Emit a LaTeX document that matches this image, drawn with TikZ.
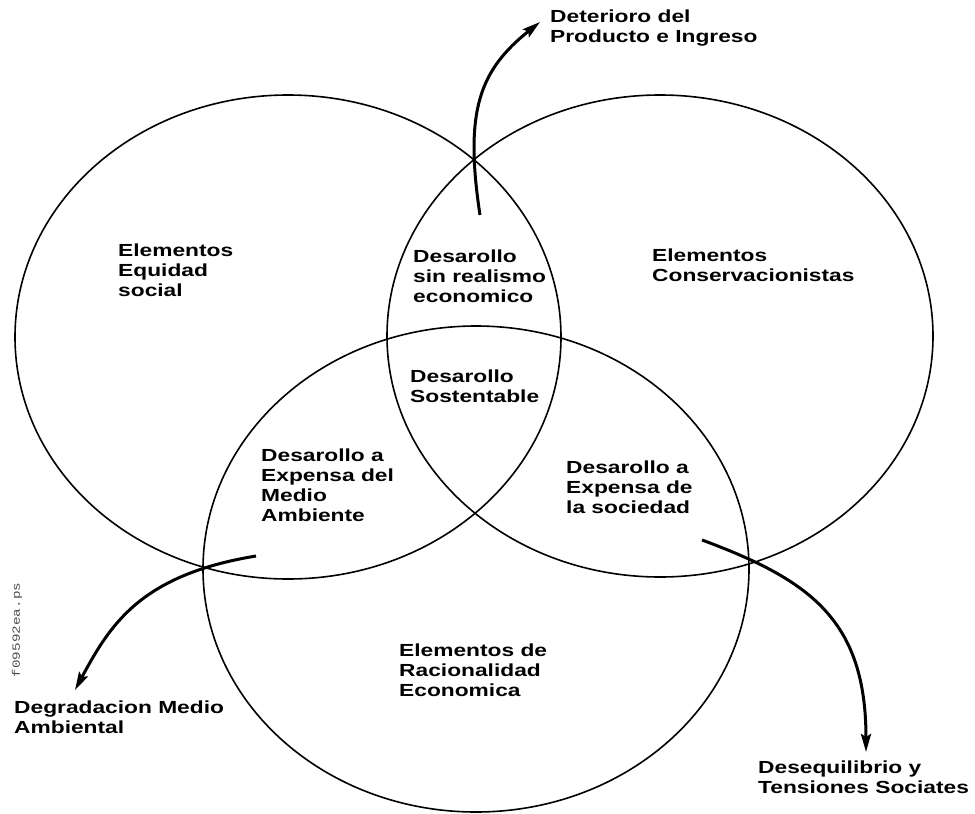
\documentclass[tikz,border=0pt]{standalone}
\usepackage{fontspec}
\setmainfont{Liberation Sans}[FakeStretch=1.3]
\setmonofont{Liberation Mono}[FakeStretch=1.3]
\usetikzlibrary{arrows.meta}
\tikzset{>={Stealth[length=18pt,width=10pt,inset=3pt]}}
\tikzset{
  lbl/.style={align=left, anchor=base west, inner sep=0pt,
    font=\bfseries\fontsize{17.5}{20}\selectfont},
  ring/.style={line width=1.6pt},
  flow/.style={->, line width=3pt}
}

\begin{document}
\begin{tikzpicture}[x=1pt, y=-1pt]
\useasboundingbox (0,0) rectangle (975,814);

% Ellipses
\draw[ring] (288,337) ellipse [x radius=273pt, y radius=242pt];
\draw[ring] (660,336) ellipse [x radius=273pt, y radius=241pt];
\draw[ring] (476,569) ellipse [x radius=273pt, y radius=243pt];

% Regions (placed at the baseline of the last line)
\node[lbl] (equidad) at (118,296) {Elementos\\Equidad\\social};
\node[lbl] (sinreal) at (413,302) {Desarollo\\sin realismo\\economico};
\node[lbl] (conserv) at (652,281) {Elementos\\Conservacionistas};
\node[lbl] (sostent) at (410,402) {Desarollo\\Sostentable};
\node[lbl] (expmedio) at (261,521) {Desarollo a\\Expensa del\\Medio\\Ambiente};
\node[lbl] (expsoc) at (566,513) {Desarollo a\\Expensa de\\la sociedad};
\node[lbl] (racional) at (399,696) {Elementos de\\Racionalidad\\Economica};

% Outcomes
\node[lbl] (deterioro) at (550,42) {Deterioro del\\Producto e Ingreso};
\node[lbl] (degrad) at (14,733) {Degradacion Medio\\Ambiental};
\node[lbl] (deseq) at (758,793) {Desequilibrio y\\Tensiones Sociates};

\node[rotate=90, text=black!70, font=\ttfamily\fontsize{11}{11}\selectfont]
  (fname) at (17,630) {f09592ea.ps};

% Arrows
\coordinate (detstart) at (480,215);
\coordinate (dettip) at (540,22);
\coordinate (degstart) at (256,556);
\coordinate (degtip) at (75,690);
\coordinate (desstart) at (702,540);
\coordinate (destip) at (866,752);

\draw[flow] (detstart) .. controls (464,110) and (480,70) .. (dettip);
\draw[flow] (degstart) .. controls (140,575) and (110,625) .. (degtip);
\draw[flow] (desstart) .. controls (810,580) and (866,620) .. (destip);

\end{tikzpicture}
\end{document}
